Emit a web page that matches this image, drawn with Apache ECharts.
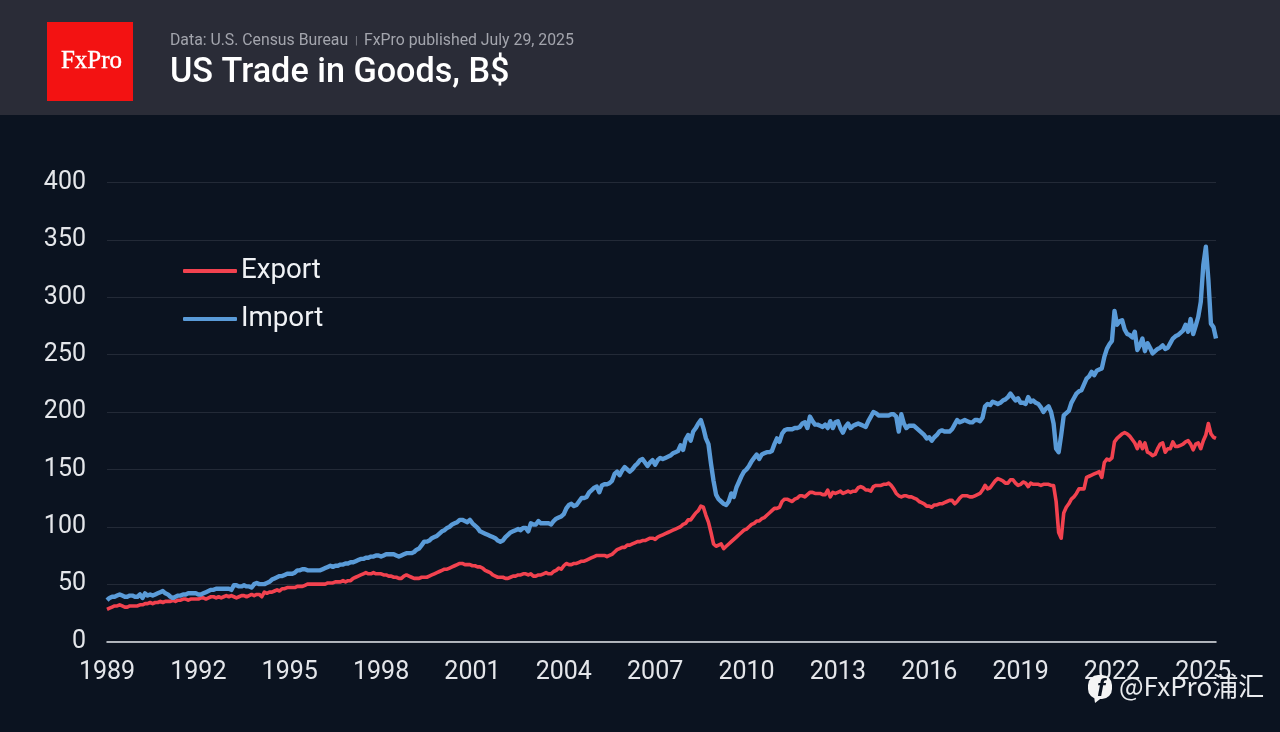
<!DOCTYPE html>
<html>
<head>
<meta charset="utf-8">
<title>US Trade in Goods, B$</title>
<script src="https://cdn.jsdelivr.net/npm/echarts@6/dist/echarts.min.js"></script>
<style>
  html, body { margin: 0; padding: 0; background: #0b1320; }
  #chart { width: 1280px; height: 732px; }
</style>
</head>
<body>
<div id="chart"></div>
<script>
const startYear = 1989;
const pointCount = 438; // Jan 1989 to Jun 2025, monthly

const yTicks = { min: 0, max: 400, interval: 50 };

const exportValues = [
  28,29,30,31,31,32,31,30,30,31,31,31,
  31,32,32,33,33,34,33,34,34,35,34,35,
  35,35,36,35,36,36,37,37,36,37,37,37,
  37,38,38,37,38,39,39,38,39,38,39,40,
  39,40,39,38,39,40,40,39,40,41,40,41,
  41,39,43,42,43,43,44,45,44,46,46,47,
  47,47,47,48,48,48,49,50,50,50,50,50,
  50,50,50,51,51,51,52,52,52,53,52,53,
  53,55,56,57,58,59,60,59,59,60,59,59,
  59,58,58,57,57,56,56,55,55,57,58,57,
  56,55,55,55,56,56,56,57,58,59,60,61,
  62,63,63,64,65,66,67,68,68,67,67,67,
  66,66,65,65,64,62,61,60,58,57,56,56,
  56,55,55,56,57,57,58,58,59,59,58,59,
  57,57,58,58,59,60,59,59,61,62,64,63,
  66,68,67,67,68,68,69,70,70,71,72,73,
  74,75,75,75,75,74,75,76,78,80,81,82,
  82,84,84,85,86,87,87,88,88,89,90,90,
  89,91,92,93,94,95,96,97,98,99,100,102,
  103,106,106,109,112,114,118,117,110,104,95,85,
  83,84,85,81,83,85,87,89,91,93,95,97,
  98,100,102,103,105,105,107,108,110,112,114,116,
  116,117,122,124,124,123,122,124,125,127,127,126,
  128,130,130,129,129,129,128,128,132,126,130,129,
  130,131,129,130,131,130,131,131,134,135,134,132,
  132,131,135,136,136,136,137,137,138,136,133,129,
  127,126,127,127,126,126,125,124,122,121,120,118,
  118,117,119,119,120,120,121,122,123,123,120,122,
  125,127,127,127,126,126,127,128,129,132,136,133,
  134,137,140,142,141,140,138,138,141,141,138,136,
  137,139,138,135,138,137,137,137,136,137,137,137,
  136,136,122,95,90,112,117,120,124,126,129,133,
  133,133,143,144,145,146,147,148,143,156,159,158,
  160,174,177,179,181,182,181,179,176,173,168,174,
  168,173,165,164,162,163,168,172,173,165,168,168,
  174,170,170,171,172,174,175,172,167,172,173,168,
  175,180,190,181,178,177
];

const importValues = [
  36,38,39,39,40,41,40,39,39,40,40,39,
  39,41,38,42,40,41,40,41,42,43,44,42,
  41,39,38,39,40,40,41,41,42,42,42,42,
  41,41,42,43,44,45,45,46,46,46,46,46,
  46,45,49,49,48,48,49,48,48,47,50,51,
  50,50,50,51,52,54,55,56,57,57,58,59,
  59,59,60,62,62,63,63,62,62,62,62,62,
  62,63,64,65,66,65,66,66,67,67,68,68,
  69,69,70,71,72,72,73,73,74,74,75,75,
  74,75,76,76,76,76,75,74,75,76,77,77,
  77,78,80,81,84,87,87,88,90,91,92,94,
  96,97,99,100,102,103,104,106,106,105,104,106,
  103,101,99,96,95,94,93,92,91,90,88,87,
  88,91,93,95,96,97,98,97,99,99,96,103,
  102,102,105,103,103,103,103,102,105,107,108,109,
  111,116,119,120,118,119,122,125,125,126,130,132,
  134,135,130,136,137,137,138,140,146,148,145,149,
  152,150,148,150,153,155,158,159,156,153,156,158,
  154,158,160,159,160,161,162,164,165,166,171,167,
  176,180,175,183,186,190,193,186,177,172,155,140,
  128,124,122,120,119,122,129,126,134,139,144,148,
  150,153,157,160,163,159,163,164,165,165,166,172,
  177,174,181,184,185,185,185,186,186,187,190,191,
  186,196,192,189,189,188,187,189,186,192,186,191,
  192,186,182,187,190,186,188,189,190,189,188,187,
  192,196,200,199,197,197,197,197,197,198,198,196,
  183,198,190,186,188,188,188,186,184,182,180,177,
  178,175,178,180,183,184,183,183,183,185,189,193,
  191,192,193,192,191,191,193,193,192,195,205,207,
  206,209,208,207,208,210,211,213,216,213,210,212,
  208,208,207,213,209,210,208,207,204,200,203,205,
  200,190,168,165,180,197,199,201,208,212,216,218,
  219,224,229,231,235,232,236,237,238,248,255,259,
  262,288,276,279,280,272,268,267,265,270,254,258,
  264,253,260,256,251,253,255,256,258,255,256,260,
  264,266,267,269,271,276,270,281,268,275,283,296,
  328,344,315,277,274,264
];

const categories = [];
for (let i = 0; i < pointCount; i++) {
  categories.push(String(startYear + Math.floor(i / 12)) + '-' + String(i % 12 + 1).padStart(2, '0'));
}

const chart = echarts.init(document.getElementById('chart'), null, { renderer: 'canvas' });

chart.setOption({
  backgroundColor: '#0b1320',
  animation: false,
  textStyle: { fontFamily: 'Roboto' },
  grid: { left: 107, right: 64, top: 182.5, bottom: 90.5 },
  legend: {
    left: 178,
    top: 251,
    orient: 'vertical',
    itemWidth: 54,
    itemHeight: 4,
    itemGap: 18,
    icon: 'roundRect',
    data: ['Export', 'Import'],
    textStyle: { color: '#f0f2f5', fontSize: 27.7, fontFamily: 'Roboto', padding: [0, 0, 0, -1], lineHeight: 30 }
  },
  xAxis: {
    type: 'category',
    data: categories,
    boundaryGap: false,
    axisLine: { lineStyle: { color: '#e4e6ea', width: 1.5 } },
    axisTick: { show: false },
    splitLine: { show: false },
    axisLabel: {
      color: '#e4e6ea',
      fontSize: 25,
      fontFamily: 'Roboto',
      margin: 19,
      interval: (index) => index % 36 === 0,
      formatter: (value) => value.slice(0, 4)
    }
  },
  yAxis: {
    type: 'value',
    min: yTicks.min,
    max: yTicks.max,
    interval: yTicks.interval,
    axisLine: { show: false },
    axisTick: { show: false },
    axisLabel: { color: '#e4e6ea', fontSize: 25, fontFamily: 'Roboto', margin: 21 },
    splitLine: { lineStyle: { color: '#232a37', width: 1.2 } }
  },
  series: [
    {
      name: 'Export',
      type: 'line',
      data: exportValues,
      showSymbol: false,
      itemStyle: { color: '#f2424f' },
      lineStyle: { color: '#f2424f', width: 3.6, join: 'round' }
    },
    {
      name: 'Import',
      type: 'line',
      data: importValues,
      showSymbol: false,
      itemStyle: { color: '#5a9bd8' },
      lineStyle: { color: '#5a9bd8', width: 4.4, join: 'round' }
    }
  ],
  graphic: [
    { type: 'rect', left: 0, top: 0, z: 10, shape: { width: 1280, height: 115 }, style: { fill: '#2a2c37' } },
    { type: 'rect', left: 47, top: 22, z: 11, shape: { width: 86, height: 79 }, style: { fill: '#f31212' } },
    { type: 'text', x: 91.5, y: 61, z: 12, style: { text: 'FxPro', fill: '#ffffff', stroke: '#ffffff', lineWidth: 0.4, font: '25px "Liberation Serif"', textAlign: 'center', textVerticalAlign: 'middle' } },
    { type: 'text', x: 170, y: 41, z: 12, style: { text: 'Data: U.S. Census Bureau', fill: '#a3a5ad', font: '15.8px Roboto', textVerticalAlign: 'middle' } },
    { type: 'text', x: 355, y: 41, z: 12, style: { text: '|', fill: '#85878f', font: '11px Roboto', textVerticalAlign: 'middle' } },
    { type: 'text', x: 364, y: 41, z: 12, style: { text: 'FxPro published July 29, 2025', fill: '#a3a5ad', font: '15.8px Roboto', textVerticalAlign: 'middle' } },
    { type: 'text', x: 170, y: 73, z: 12, style: { text: 'US Trade in Goods, B$', fill: '#ffffff', font: '500 34.2px Roboto', textVerticalAlign: 'middle' } },
    // watermark
    { type: 'rect', left: 1088, top: 675, z: 12, shape: { width: 24, height: 24, r: 10 }, style: { fill: '#f4f4f4' } },
    { type: 'polygon', z: 12, shape: { points: [[1094, 696], [1104, 696], [1095, 703]] }, style: { fill: '#f4f4f4' } },
    { type: 'text', x: 1101, y: 689, z: 13, style: { text: 'f', fill: '#0b1320', font: 'italic bold 24px "Liberation Sans"', textAlign: 'center', textVerticalAlign: 'middle' } },
    { type: 'text', x: 1119, y: 686, z: 12, style: { text: '@FxPro浦汇', fill: '#e9ebee', font: '26px "Noto Sans CJK SC"', textVerticalAlign: 'middle' } }
  ]
});
</script>
</body>
</html>
